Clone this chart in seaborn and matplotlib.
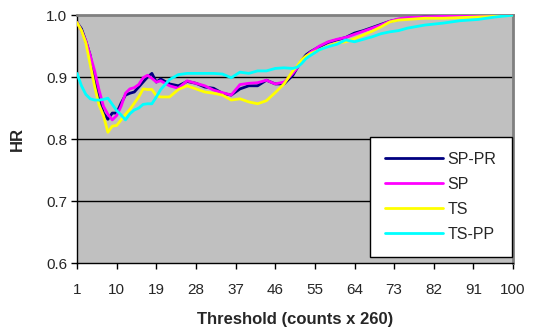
import numpy as np
import pandas as pd
import seaborn as sns
import matplotlib
matplotlib.use("Agg")
import matplotlib.pyplot as plt

# threshold positions (counts x 260) and HR values
threshold = [1, 2, 3, 4, 5, 6, 7, 8, 9, 10, 11, 12, 13, 14, 15, 16, 17, 18, 19, 20,
             22, 24, 26, 28, 30, 32, 34, 36, 38, 40, 42, 44, 46, 48, 50, 51, 52, 53, 54,
             56, 58, 60, 62, 64, 66, 68, 70, 72, 74, 76, 80, 84, 88, 92, 96, 100]

sp_pr = [0.988, 0.978, 0.958, 0.935, 0.895, 0.863, 0.842, 0.832, 0.842, 0.842,
         0.858, 0.871, 0.874, 0.876, 0.884, 0.892, 0.900, 0.906, 0.892, 0.897,
         0.889, 0.886, 0.893, 0.890, 0.884, 0.882, 0.874, 0.871, 0.881, 0.886,
         0.886, 0.895, 0.889, 0.889, 0.903, 0.915, 0.927, 0.936, 0.941,
         0.949, 0.956, 0.960, 0.964, 0.971, 0.975, 0.980, 0.985, 0.990, 0.993,
         0.995, 0.997, 0.997, 0.998, 0.998, 0.999, 1.000]

sp = [0.988, 0.975, 0.958, 0.935, 0.910, 0.879, 0.853, 0.840, 0.831, 0.838,
      0.853, 0.874, 0.881, 0.883, 0.888, 0.899, 0.903, 0.898, 0.892, 0.894,
      0.886, 0.882, 0.894, 0.890, 0.886, 0.879, 0.875, 0.871, 0.888, 0.890,
      0.891, 0.895, 0.889, 0.892, 0.906, 0.915, 0.926, 0.933, 0.940,
      0.950, 0.957, 0.961, 0.964, 0.969, 0.974, 0.979, 0.984, 0.990, 0.994,
      0.996, 0.997, 0.998, 0.998, 0.998, 0.999, 1.000]

ts = [0.988, 0.975, 0.955, 0.920, 0.885, 0.855, 0.838, 0.811, 0.821, 0.822,
      0.831, 0.840, 0.848, 0.858, 0.868, 0.881, 0.880, 0.880, 0.870, 0.868,
      0.868, 0.880, 0.886, 0.881, 0.876, 0.874, 0.871, 0.863, 0.865, 0.860,
      0.857, 0.862, 0.875, 0.889, 0.910, 0.918, 0.928, 0.934, 0.938,
      0.944, 0.950, 0.955, 0.957, 0.962, 0.968, 0.974, 0.981, 0.989, 0.992,
      0.993, 0.995, 0.995, 0.996, 0.997, 0.998, 1.000]

ts_pp = [0.906, 0.886, 0.872, 0.865, 0.863, 0.863, 0.864, 0.866, 0.856, 0.846,
         0.839, 0.831, 0.841, 0.847, 0.850, 0.856, 0.857, 0.857, 0.868, 0.880,
         0.896, 0.904, 0.906, 0.906, 0.906, 0.906, 0.905, 0.899, 0.908, 0.906,
         0.910, 0.910, 0.914, 0.915, 0.914, 0.916, 0.922, 0.930, 0.935,
         0.944, 0.949, 0.953, 0.960, 0.957, 0.961, 0.965, 0.970, 0.973, 0.975,
         0.979, 0.984, 0.987, 0.991, 0.993, 0.997, 1.000]

series_names = ["SP-PR", "SP", "TS", "TS-PP"]
colors = ["#000080", "#FF00FF", "#FFFF00", "#00FFFF"]
x_ticks = [1, 10, 19, 28, 37, 46, 55, 64, 73, 82, 91, 100]
y_ticks = [0.6, 0.7, 0.8, 0.9, 1.0]

df = pd.DataFrame({"Threshold": threshold, "SP-PR": sp_pr, "SP": sp,
                   "TS": ts, "TS-PP": ts_pp})
long_df = df.melt(id_vars="Threshold", var_name="series", value_name="HR")

sns.set_style("white")
plt.rcParams["font.family"] = ["Liberation Sans", "DejaVu Sans"]

fig = plt.figure(figsize=(5.35, 3.36), dpi=100)
ax = fig.add_axes([0.144, 0.217, 0.815, 0.738])
ax.set_facecolor("#C0C0C0")

for y in [0.7, 0.8, 0.9]:
    ax.axhline(y, color="black", lw=1.0, zorder=1)

sns.lineplot(data=long_df, x="Threshold", y="HR", hue="series",
             hue_order=series_names, palette=colors, linewidth=2.0,
             ax=ax, zorder=3)

ax.set_xlim(1, 100)
ax.set_ylim(0.6, 1.0)
ax.set_xticks(x_ticks)
ax.set_yticks(y_ticks)
ax.set_yticklabels([f"{v:.1f}" for v in y_ticks])
ax.tick_params(axis="both", direction="out", length=4, width=1, color="black",
               labelsize=11, pad=3, bottom=True, left=True)
ax.tick_params(axis="x", pad=10)

for side in ["top", "right"]:
    ax.spines[side].set_color("#808080")
    ax.spines[side].set_linewidth(2)
for side in ["left", "bottom"]:
    ax.spines[side].set_color("black")
    ax.spines[side].set_linewidth(1)

ax.set_xlabel("Threshold (counts x 260)", fontsize=12, fontweight="bold", labelpad=11)
ax.set_ylabel("HR", fontsize=12, fontweight="bold", labelpad=15)

leg = ax.legend(loc="lower right", bbox_to_anchor=(0.997, 0.025), fontsize=11.5,
                frameon=True, fancybox=False, edgecolor="black", framealpha=1,
                handlelength=3.6, handletextpad=0.3, labelspacing=0.62,
                borderpad=0.95, borderaxespad=0)
leg.get_frame().set_linewidth(1)
for line in leg.get_lines():
    line.set_linewidth(2.0)

fig.savefig("out.png", dpi=100)
